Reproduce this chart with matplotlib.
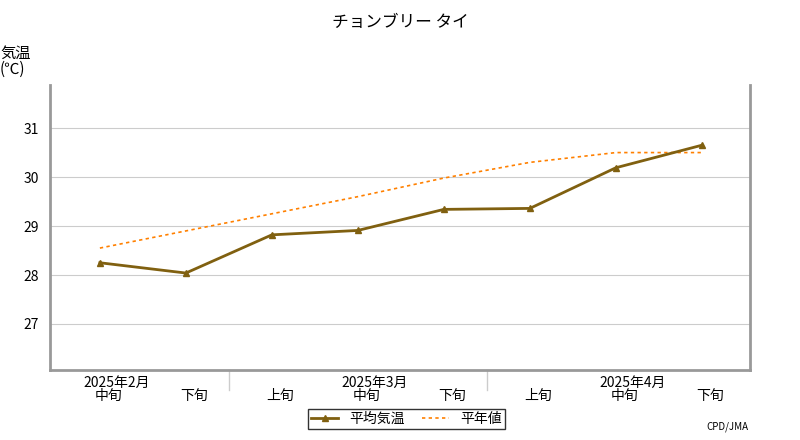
import matplotlib
matplotlib.use("Agg")
import matplotlib.pyplot as plt

plt.rcParams["font.family"] = "Noto Sans CJK JP"

dekads = ["中旬", "下旬", "上旬", "中旬", "下旬", "上旬", "中旬", "下旬"]
months = ["2025年2月", "2025年3月", "2025年4月"]
month_pos = [0.2, 3.2, 6.2]
month_sep = [1.5, 4.5]
mean_temp = [28.25, 28.04, 28.82, 28.91, 29.34, 29.36, 30.19, 30.65]
normal_temp = [28.55, 28.9, 29.25, 29.6, 29.98, 30.3, 30.5, 30.5]
yticks = [27, 28, 29, 30, 31]

fig = plt.figure(figsize=(8, 4.4), dpi=100)
ax = fig.add_axes([50 / 800, 70 / 440, 700 / 800, 285 / 440])
x = list(range(len(dekads)))

ax.plot(x, normal_temp, color="#ff8000", linestyle=(0, (2, 2)), linewidth=1.2, label="平年値")
ax.plot(x, mean_temp, color="#806010", linewidth=2, marker="^", markersize=5, label="平均気温")

ax.set_xlim(-0.58, 7.56)
ax.set_ylim(26.06, 31.88)
ax.set_yticks(yticks)
ax.set_yticklabels([str(v) for v in yticks], fontsize=10)
ax.grid(axis="y", color="#cccccc", linewidth=0.8)
ax.set_axisbelow(True)
ax.tick_params(axis="y", length=0, pad=8)
ax.set_xticks([])
for s in ["left", "right", "bottom"]:
    ax.spines[s].set_color("#999999")
    ax.spines[s].set_linewidth(2)
ax.spines["top"].set_visible(False)

for i, lab in enumerate(dekads):
    ax.text(i + 0.1, -0.09, lab, transform=ax.get_xaxis_transform(), ha="center", va="center", fontsize=10)
for p, lab in zip(month_pos, months):
    ax.text(p, -0.045, lab, transform=ax.get_xaxis_transform(), ha="center", va="center", fontsize=10)
for p in month_sep:
    ax.plot([p, p], [0, -0.07], transform=ax.get_xaxis_transform(), color="#cccccc", linewidth=1, clip_on=False)

fig.text(0.5, 0.95, "チョンブリー タイ", ha="center", va="center", fontsize=12)
fig.text(0.0, 0.86, "気温\n(℃)", ha="left", va="center", fontsize=11, linespacing=0.9)
fig.text(0.935, 0.03, "CPD/JMA", ha="right", va="center", fontsize=7)

h, l = ax.get_legend_handles_labels()
leg = fig.legend(h[::-1], l[::-1], loc="center", bbox_to_anchor=(0.508, 0.048), ncol=2,
                 fontsize=10, frameon=True, fancybox=False, edgecolor="black",
                 handlelength=2, borderpad=0.2, columnspacing=1.2)
leg.get_frame().set_linewidth(1)

fig.savefig("out.png", dpi=100)
